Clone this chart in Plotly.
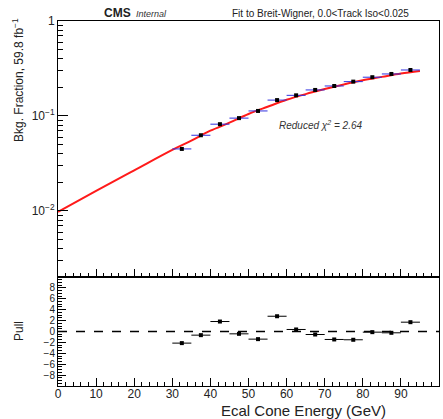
import plotly.graph_objects as go

# ---- data ----
bin_centers = [32.5, 37.5, 42.5, 47.5, 52.5, 57.5, 62.5, 67.5, 72.5, 77.5, 82.5, 87.5, 92.5]
bin_half_width = [2.5] * 13
bkg_fraction = [0.045, 0.0627, 0.082, 0.095, 0.113, 0.147, 0.165, 0.188, 0.207, 0.230, 0.256, 0.277, 0.305]
pulls = [-2.13, -0.67, 1.83, -0.43, -1.4, 2.8, 0.37, -0.55, -1.46, -1.52, -0.12, -0.24, 1.71]

fit_x = [0, 10, 20, 30, 35, 40, 45, 50, 55, 60, 65, 70, 75, 80, 85, 90, 95]
fit_y = [0.0098, 0.0163, 0.0268, 0.044, 0.055, 0.070, 0.085, 0.105, 0.125, 0.148, 0.170,
         0.192, 0.215, 0.238, 0.258, 0.280, 0.298]

pull_ticks = [-8, -6, -4, -2, 0, 2, 4, 6, 8]
pull_ticktext = [("\u2212" + str(-v)) if v < 0 else str(v) for v in pull_ticks]
log_ticks = [0.01, 0.1, 1]
log_ticktext = ["10<sup>\u22122</sup>", "10<sup>\u22121</sup>", "1"]

FONT = "Liberation Sans, Arial, sans-serif"

fig = go.Figure()

fig.add_trace(go.Scatter(
    x=fit_x, y=fit_y, mode="lines", line=dict(color="#ff1a1a", width=2, shape="spline"),
    xaxis="x", yaxis="y", showlegend=False, hoverinfo="skip"))

fig.add_trace(go.Scatter(
    x=bin_centers, y=bkg_fraction, mode="markers",
    marker=dict(symbol="square", size=4, color="black"),
    error_x=dict(type="data", array=bin_half_width, color="#3030e0", thickness=1, width=0),
    xaxis="x", yaxis="y", showlegend=False))

fig.add_trace(go.Scatter(
    x=bin_centers, y=pulls, mode="markers",
    marker=dict(symbol="square", size=4, color="black"),
    error_x=dict(type="data", array=bin_half_width, color="black", thickness=1, width=0),
    xaxis="x2", yaxis="y2", showlegend=False))

split = (386 - 277) / 365.0

minor_log = [m * d for d in (0.001, 0.01, 0.1) for m in range(2, 10)]

axis_common = dict(showgrid=False, zeroline=False, showline=True, linecolor="black",
                   linewidth=1, mirror=True, ticks="inside", tickcolor="black")


def px_x(p):
    return (p - 58) / 381.0


def px_y(p):
    return (386 - p) / 365.0


def ann(text, x, y, xanchor="center", size=12, angle=0, color="#222"):
    return dict(text=text, x=px_x(x), y=px_y(y), xref="paper", yref="paper",
                xanchor=xanchor, yanchor="middle", textangle=angle, showarrow=False,
                font=dict(family=FONT, size=size, color=color))


fig.update_layout(
    width=443, height=419,
    margin=dict(l=58, r=4, t=21, b=33),
    paper_bgcolor="white", plot_bgcolor="white",
    xaxis=dict(domain=[0, 1], range=[0, 100], anchor="y", showticklabels=False,
               dtick=10, ticklen=8,
               minor=dict(ticks="inside", dtick=2, ticklen=4, tickcolor="black"),
               **axis_common),
    yaxis=dict(domain=[split, 1], type="log", range=[-2.695, 0], anchor="x",
               tickvals=log_ticks, ticktext=log_ticktext, ticklen=10,
               tickfont=dict(family=FONT, size=12, color="#222"),
               minor=dict(ticks="inside", tickvals=minor_log, ticklen=5, tickcolor="black"),
               **axis_common),
    xaxis2=dict(domain=[0, 1], range=[0, 100], anchor="y2", dtick=10, ticklen=8,
                tickfont=dict(family=FONT, size=12, color="#222"), ticklabelstandoff=-3,
                minor=dict(ticks="inside", dtick=2, ticklen=4, tickcolor="black"),
                **axis_common),
    yaxis2=dict(domain=[0, split], range=[-10, 10], anchor="x2",
                tickvals=pull_ticks, ticktext=pull_ticktext, ticklen=8,
                tickfont=dict(family=FONT, size=10, color="#222"),
                minor=dict(ticks="inside", dtick=0.5, ticklen=4, tickcolor="black"),
                **axis_common),
    shapes=[dict(type="line", xref="x2 domain", yref="y2", x0=0, x1=1, y0=0, y1=0,
                 line=dict(color="black", width=1.5, dash="dash"))],
    annotations=[
        ann("<b>CMS</b>", 102, 13, xanchor="left", size=12),
        ann("<i>Internal</i>", 134, 14, xanchor="left", size=9, color="#333"),
        ann("Fit to Breit-Wigner, 0.0&lt;Track Iso&lt;0.025", 411, 14, xanchor="right", size=10),
        ann("<i>Reduced \u03c7<sup>2</sup> = 2.64</i>", 277, 125, xanchor="left", size=10, color="#333"),
        ann("Bkg. Fraction, 59.8 fb<sup>\u22121</sup>", 18, 80, size=12, angle=-90),
        ann("Pull", 19, 331, size=12, angle=-90),
        ann("Ecal Cone Energy (GeV)", 388, 410, xanchor="right", size=15),
    ],
)

fig.write_html("out.html")
